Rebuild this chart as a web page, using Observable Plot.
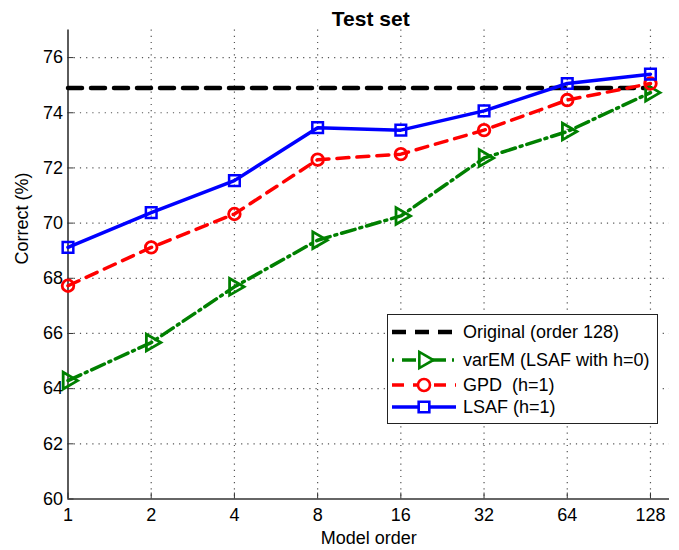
<!DOCTYPE html>
<html>
<head>
<meta charset="utf-8">
<script src="https://cdn.jsdelivr.net/npm/d3@7"></script>
<script src="https://cdn.jsdelivr.net/npm/@observablehq/plot@0.6"></script>
<style>
  body { margin: 0; background: #fff; }
  #wrap { position: relative; width: 679px; height: 550px; font-family: "Liberation Sans", Arial, Helvetica, sans-serif; }
  #legend { position: absolute; left: 387px; top: 314px; width: 271px; height: 110px; border: 1px solid #222; background: #fff; box-sizing: border-box; }
  #legend .row { position: absolute; left: 2px; height: 24px; display: flex; align-items: center; font-size: 18px; color: #000; white-space: pre; }
  #legend svg { margin-right: 5px; }
</style>
</head>
<body>
<div id="wrap"></div>
<script>
// ---- data ----
const orders = [1, 2, 4, 8, 16, 32, 64, 128];
const lsaf  = [69.12, 70.38, 71.54, 73.46, 73.37, 74.07, 75.06, 75.40];
const gpd   = [67.73, 69.12, 70.33, 72.30, 72.50, 73.37, 74.46, 75.06];
const varem = [64.29, 65.67, 67.69, 69.38, 70.26, 72.36, 73.32, 74.73];
const originalValue = 74.9;
const yTicks = [60, 62, 64, 66, 68, 70, 72, 74, 76];
const gridY = [62, 64, 66, 68, 70, 72, 74, 76];
const seriesNames = ["Original (order 128)", "varEM (LSAF with h=0)", "GPD  (h=1)", "LSAF (h=1)"];
const titleText = "Test set";

const toRows = vals => orders.map((o, i) => ({x: o, y: vals[i]}));
const originalRows = [{x: orders[0], y: originalValue}, {x: orders[orders.length - 1], y: originalValue}];

const W = 679, H = 550;
const mL = 67.5, mR = 10, mT = 29.5, mB = 51.5;
const plotW = W - mL - mR, plotH = H - mT - mB;
const FONT = '"Liberation Sans", Arial, Helvetica, sans-serif';

const chart = Plot.plot({
  width: W, height: H,
  marginLeft: mL, marginRight: mR, marginTop: mT, marginBottom: mB,
  style: {fontFamily: FONT, fontSize: "18px", color: "#000", background: "#fff"},
  x: {type: "log", base: 2, domain: [1, 150], ticks: orders, tickFormat: d => String(d), label: null},
  y: {domain: [60, 77], ticks: yTicks, label: null},
  marks: [
    // dotted grid
    Plot.ruleX(orders.slice(1), {x: d => d, stroke: "#555", strokeDasharray: "1.2,5", strokeWidth: 1.2}),
    Plot.ruleY(gridY, {y: d => d, stroke: "#555", strokeDasharray: "1.2,5", strokeWidth: 1.2}),
    // inward tick marks
    Plot.tickY(yTicks, {y: d => d, stroke: "#333", strokeWidth: 1, insetRight: plotW - 6}),
    Plot.tickX(orders, {x: d => d, stroke: "#333", strokeWidth: 1, insetTop: plotH - 6}),
    // axes
    Plot.axisX({ticks: orders, tickFormat: d => String(d), tickSize: 0, tickPadding: 9, fontSize: 18, label: null}),
    Plot.axisY({ticks: yTicks, tickSize: 0, tickPadding: 5, fontSize: 18, label: null}),
    Plot.ruleX([1], {stroke: "#333", strokeWidth: 1.6}),
    Plot.ruleY([60], {stroke: "#333", strokeWidth: 1.6}),
    // series
    Plot.line(originalRows, {x: "x", y: "y", stroke: "#000", strokeWidth: 4.5, strokeDasharray: "14,9"}),
    Plot.line(toRows(varem), {x: "x", y: "y", stroke: "#008000", strokeWidth: 3.5, strokeDasharray: "14,5,2,5"}),
    Plot.dot(toRows(varem), {x: "x", y: "y", symbol: "triangle", rotate: 90, r: 6.2, stroke: "#008000", strokeWidth: 2.8, fill: "none"}),
    Plot.line(toRows(gpd), {x: "x", y: "y", stroke: "#ff0000", strokeWidth: 3.5, strokeDasharray: "12,8"}),
    Plot.dot(toRows(gpd), {x: "x", y: "y", symbol: "circle", r: 5.8, stroke: "#ff0000", strokeWidth: 2.8, fill: "none"}),
    Plot.line(toRows(lsaf), {x: "x", y: "y", stroke: "#0000ff", strokeWidth: 3.5}),
    Plot.dot(toRows(lsaf), {x: "x", y: "y", symbol: "square", r: 6, stroke: "#0000ff", strokeWidth: 2.5, fill: "none"}),
    // title and axis labels
    Plot.text([titleText], {frameAnchor: "top", dy: -19, dx: 2, text: d => d, fontWeight: "bold", fontSize: 21}),
    Plot.text(["Model order"], {frameAnchor: "bottom", dy: 45, text: d => d, fontSize: 18}),
    Plot.text(["Correct (%)"], {frameAnchor: "left", dx: -46, rotate: -90, text: d => d, fontSize: 18})
  ]
});
const wrap = document.getElementById("wrap");
wrap.appendChild(chart);

// legend
const legendSpecs = [
  {name: seriesNames[0], stroke: "#000", dash: "14,9", width: 4.5, symbol: null},
  {name: seriesNames[1], stroke: "#008000", dash: "2,8,14,6", width: 3.5, symbol: "triangle"},
  {name: seriesNames[2], stroke: "#ff0000", dash: "12,9", width: 3.5, symbol: "circle"},
  {name: seriesNames[3], stroke: "#0000ff", dash: null, width: 3.5, symbol: "square"}
];
const legend = document.createElement("div");
legend.id = "legend";
const rowTops = [5, 33, 58, 80];
const ns = "http://www.w3.org/2000/svg";
legendSpecs.forEach((s, i) => {
  const row = document.createElement("div");
  row.className = "row";
  row.style.top = rowTops[i] + "px";
  const svg = document.createElementNS(ns, "svg");
  svg.setAttribute("width", 68); svg.setAttribute("height", 24);
  const ln = document.createElementNS(ns, "line");
  ln.setAttribute("x1", 2); ln.setAttribute("x2", 66);
  ln.setAttribute("y1", 12); ln.setAttribute("y2", 12);
  ln.setAttribute("stroke", s.stroke); ln.setAttribute("stroke-width", s.width);
  if (s.dash) ln.setAttribute("stroke-dasharray", s.dash);
  svg.appendChild(ln);
  if (s.symbol) {
    const type = s.symbol === "triangle" ? d3.symbolTriangle : s.symbol === "circle" ? d3.symbolCircle : d3.symbolSquare;
    const p = document.createElementNS(ns, "path");
    p.setAttribute("d", d3.symbol().type(type).size(Math.PI * 36)());
    p.setAttribute("transform", "translate(34,12)" + (s.symbol === "triangle" ? " rotate(90)" : ""));
    p.setAttribute("fill", "#fff"); p.setAttribute("stroke", s.stroke); p.setAttribute("stroke-width", 2.6);
    svg.appendChild(p);
  }
  row.appendChild(svg);
  row.appendChild(document.createTextNode(s.name));
  legend.appendChild(row);
});
wrap.appendChild(legend);
</script>
</body>
</html>
